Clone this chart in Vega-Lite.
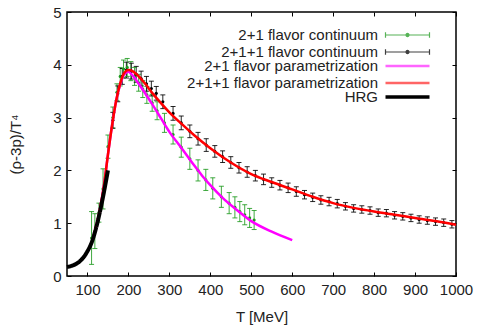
{
  "$schema": "https://vega.github.io/schema/vega-lite/v6.json",
  "width": 389,
  "height": 264,
  "autosize": "none",
  "padding": {"left": 67, "top": 12, "right": 22, "bottom": 49},
  "config": {
    "font": "Liberation Sans",
    "view": {"stroke": "#000000", "strokeWidth": 1.5},
    "axis": {"grid": false, "domain": false, "tickColor": "#000000", "tickSize": -4, "labelFontSize": 15, "labelColor": "#222222", "labelFont": "Liberation Sans", "titleFont": "Liberation Sans", "titleFontWeight": "normal", "titleColor": "#222222", "labelOverlap": false, "labelFlush": false, "format": "d"},
    "legend": {"labelFont": "Liberation Sans", "labelFontSize": 15, "labelColor": "#222222", "labelLimit": 400, "title": null, "orient": "none", "symbolSize": 121, "labelAlign": "right", "labelOffset": -37, "rowPadding": 1, "padding": 0}
  },
  "datasets": {
    "pts": [
      {"series": "2+1 flavor continuum", "T": 110, "v": 0.72, "lo": 0.22, "hi": 1.22},
      {"series": "2+1 flavor continuum", "T": 118, "v": 0.85, "lo": 0.52, "hi": 1.18},
      {"series": "2+1 flavor continuum", "T": 128, "v": 1.2, "lo": 1.02, "hi": 1.38},
      {"series": "2+1 flavor continuum", "T": 138, "v": 1.65, "lo": 1.27, "hi": 2.03},
      {"series": "2+1 flavor continuum", "T": 150, "v": 2.45, "lo": 2.23, "hi": 2.67},
      {"series": "2+1 flavor continuum", "T": 162, "v": 3.0, "lo": 2.8, "hi": 3.2},
      {"series": "2+1 flavor continuum", "T": 172, "v": 3.48, "lo": 3.32, "hi": 3.64},
      {"series": "2+1 flavor continuum", "T": 180, "v": 3.78, "lo": 3.6, "hi": 3.95},
      {"series": "2+1 flavor continuum", "T": 188, "v": 3.92, "lo": 3.75, "hi": 4.09},
      {"series": "2+1 flavor continuum", "T": 197, "v": 3.95, "lo": 3.78, "hi": 4.12},
      {"series": "2+1 flavor continuum", "T": 206, "v": 3.88, "lo": 3.7, "hi": 4.06},
      {"series": "2+1 flavor continuum", "T": 215, "v": 3.78, "lo": 3.61, "hi": 3.95},
      {"series": "2+1 flavor continuum", "T": 225, "v": 3.66, "lo": 3.5, "hi": 3.82},
      {"series": "2+1 flavor continuum", "T": 235, "v": 3.54, "lo": 3.38, "hi": 3.7},
      {"series": "2+1 flavor continuum", "T": 245, "v": 3.43, "lo": 3.27, "hi": 3.59},
      {"series": "2+1 flavor continuum", "T": 258, "v": 3.28, "lo": 3.12, "hi": 3.44},
      {"series": "2+1 flavor continuum", "T": 270, "v": 3.13, "lo": 2.96, "hi": 3.3},
      {"series": "2+1 flavor continuum", "T": 288, "v": 2.9, "lo": 2.72, "hi": 3.08},
      {"series": "2+1 flavor continuum", "T": 309, "v": 2.68, "lo": 2.5, "hi": 2.86},
      {"series": "2+1 flavor continuum", "T": 329, "v": 2.44, "lo": 2.25, "hi": 2.63},
      {"series": "2+1 flavor continuum", "T": 350, "v": 2.22, "lo": 2.02, "hi": 2.42},
      {"series": "2+1 flavor continuum", "T": 370, "v": 2.0, "lo": 1.8, "hi": 2.2},
      {"series": "2+1 flavor continuum", "T": 389, "v": 1.82, "lo": 1.62, "hi": 2.02},
      {"series": "2+1 flavor continuum", "T": 406, "v": 1.66, "lo": 1.46, "hi": 1.86},
      {"series": "2+1 flavor continuum", "T": 427, "v": 1.5, "lo": 1.3, "hi": 1.7},
      {"series": "2+1 flavor continuum", "T": 446, "v": 1.38, "lo": 1.18, "hi": 1.58},
      {"series": "2+1 flavor continuum", "T": 460, "v": 1.3, "lo": 1.1, "hi": 1.5},
      {"series": "2+1 flavor continuum", "T": 472, "v": 1.22, "lo": 1.03, "hi": 1.41},
      {"series": "2+1 flavor continuum", "T": 484, "v": 1.16, "lo": 0.97, "hi": 1.35},
      {"series": "2+1 flavor continuum", "T": 496, "v": 1.1, "lo": 0.92, "hi": 1.28},
      {"series": "2+1 flavor continuum", "T": 507, "v": 1.06, "lo": 0.88, "hi": 1.24},
      {"series": "2+1+1 flavor continuum", "T": 162, "v": 2.95, "lo": 2.8, "hi": 3.1},
      {"series": "2+1+1 flavor continuum", "T": 174, "v": 3.45, "lo": 3.3, "hi": 3.6},
      {"series": "2+1+1 flavor continuum", "T": 185, "v": 3.78, "lo": 3.63, "hi": 3.93},
      {"series": "2+1+1 flavor continuum", "T": 195, "v": 3.9, "lo": 3.75, "hi": 4.05},
      {"series": "2+1+1 flavor continuum", "T": 207, "v": 3.88, "lo": 3.73, "hi": 4.03},
      {"series": "2+1+1 flavor continuum", "T": 219, "v": 3.82, "lo": 3.67, "hi": 3.97},
      {"series": "2+1+1 flavor continuum", "T": 231, "v": 3.74, "lo": 3.6, "hi": 3.88},
      {"series": "2+1+1 flavor continuum", "T": 244, "v": 3.64, "lo": 3.5, "hi": 3.78},
      {"series": "2+1+1 flavor continuum", "T": 256, "v": 3.55, "lo": 3.41, "hi": 3.69},
      {"series": "2+1+1 flavor continuum", "T": 268, "v": 3.46, "lo": 3.33, "hi": 3.59},
      {"series": "2+1+1 flavor continuum", "T": 284, "v": 3.3, "lo": 3.17, "hi": 3.43},
      {"series": "2+1+1 flavor continuum", "T": 309, "v": 3.08, "lo": 2.95, "hi": 3.21},
      {"series": "2+1+1 flavor continuum", "T": 329, "v": 2.9, "lo": 2.77, "hi": 3.03},
      {"series": "2+1+1 flavor continuum", "T": 350, "v": 2.74, "lo": 2.62, "hi": 2.86},
      {"series": "2+1+1 flavor continuum", "T": 370, "v": 2.6, "lo": 2.48, "hi": 2.72},
      {"series": "2+1+1 flavor continuum", "T": 390, "v": 2.48, "lo": 2.36, "hi": 2.6},
      {"series": "2+1+1 flavor continuum", "T": 411, "v": 2.36, "lo": 2.25, "hi": 2.47},
      {"series": "2+1+1 flavor continuum", "T": 430, "v": 2.26, "lo": 2.15, "hi": 2.37},
      {"series": "2+1+1 flavor continuum", "T": 450, "v": 2.15, "lo": 2.04, "hi": 2.26},
      {"series": "2+1+1 flavor continuum", "T": 470, "v": 2.05, "lo": 1.95, "hi": 2.15},
      {"series": "2+1+1 flavor continuum", "T": 490, "v": 1.97, "lo": 1.87, "hi": 2.07},
      {"series": "2+1+1 flavor continuum", "T": 510, "v": 1.9, "lo": 1.8, "hi": 2.0},
      {"series": "2+1+1 flavor continuum", "T": 530, "v": 1.83, "lo": 1.73, "hi": 1.93},
      {"series": "2+1+1 flavor continuum", "T": 550, "v": 1.77, "lo": 1.68, "hi": 1.86},
      {"series": "2+1+1 flavor continuum", "T": 570, "v": 1.72, "lo": 1.63, "hi": 1.81},
      {"series": "2+1+1 flavor continuum", "T": 590, "v": 1.67, "lo": 1.58, "hi": 1.76},
      {"series": "2+1+1 flavor continuum", "T": 610, "v": 1.6, "lo": 1.51, "hi": 1.69},
      {"series": "2+1+1 flavor continuum", "T": 630, "v": 1.54, "lo": 1.46, "hi": 1.62},
      {"series": "2+1+1 flavor continuum", "T": 650, "v": 1.49, "lo": 1.41, "hi": 1.57},
      {"series": "2+1+1 flavor continuum", "T": 670, "v": 1.44, "lo": 1.36, "hi": 1.52},
      {"series": "2+1+1 flavor continuum", "T": 690, "v": 1.41, "lo": 1.33, "hi": 1.49},
      {"series": "2+1+1 flavor continuum", "T": 710, "v": 1.37, "lo": 1.29, "hi": 1.45},
      {"series": "2+1+1 flavor continuum", "T": 730, "v": 1.32, "lo": 1.25, "hi": 1.39},
      {"series": "2+1+1 flavor continuum", "T": 750, "v": 1.28, "lo": 1.21, "hi": 1.35},
      {"series": "2+1+1 flavor continuum", "T": 770, "v": 1.26, "lo": 1.19, "hi": 1.33},
      {"series": "2+1+1 flavor continuum", "T": 790, "v": 1.24, "lo": 1.17, "hi": 1.31},
      {"series": "2+1+1 flavor continuum", "T": 810, "v": 1.2, "lo": 1.13, "hi": 1.27},
      {"series": "2+1+1 flavor continuum", "T": 830, "v": 1.19, "lo": 1.12, "hi": 1.26},
      {"series": "2+1+1 flavor continuum", "T": 850, "v": 1.15, "lo": 1.08, "hi": 1.22},
      {"series": "2+1+1 flavor continuum", "T": 870, "v": 1.13, "lo": 1.06, "hi": 1.2},
      {"series": "2+1+1 flavor continuum", "T": 890, "v": 1.1, "lo": 1.03, "hi": 1.17},
      {"series": "2+1+1 flavor continuum", "T": 910, "v": 1.07, "lo": 1.0, "hi": 1.14},
      {"series": "2+1+1 flavor continuum", "T": 930, "v": 1.05, "lo": 0.98, "hi": 1.12},
      {"series": "2+1+1 flavor continuum", "T": 950, "v": 1.03, "lo": 0.96, "hi": 1.1},
      {"series": "2+1+1 flavor continuum", "T": 970, "v": 1.01, "lo": 0.94, "hi": 1.08},
      {"series": "2+1+1 flavor continuum", "T": 990, "v": 0.98, "lo": 0.91, "hi": 1.05}
    ],
    "curves": [
      {"series": "2+1 flavor parametrization", "T": 110, "v": 0.62},
      {"series": "2+1 flavor parametrization", "T": 120, "v": 0.9},
      {"series": "2+1 flavor parametrization", "T": 130, "v": 1.25},
      {"series": "2+1 flavor parametrization", "T": 140, "v": 1.7},
      {"series": "2+1 flavor parametrization", "T": 150, "v": 2.3},
      {"series": "2+1 flavor parametrization", "T": 160, "v": 2.85},
      {"series": "2+1 flavor parametrization", "T": 170, "v": 3.32},
      {"series": "2+1 flavor parametrization", "T": 180, "v": 3.63},
      {"series": "2+1 flavor parametrization", "T": 190, "v": 3.82},
      {"series": "2+1 flavor parametrization", "T": 200, "v": 3.87},
      {"series": "2+1 flavor parametrization", "T": 210, "v": 3.8},
      {"series": "2+1 flavor parametrization", "T": 220, "v": 3.7},
      {"series": "2+1 flavor parametrization", "T": 240, "v": 3.47},
      {"series": "2+1 flavor parametrization", "T": 260, "v": 3.23},
      {"series": "2+1 flavor parametrization", "T": 280, "v": 2.98},
      {"series": "2+1 flavor parametrization", "T": 300, "v": 2.73},
      {"series": "2+1 flavor parametrization", "T": 330, "v": 2.42},
      {"series": "2+1 flavor parametrization", "T": 360, "v": 2.1},
      {"series": "2+1 flavor parametrization", "T": 380, "v": 1.9},
      {"series": "2+1 flavor parametrization", "T": 400, "v": 1.72},
      {"series": "2+1 flavor parametrization", "T": 430, "v": 1.48},
      {"series": "2+1 flavor parametrization", "T": 460, "v": 1.28},
      {"series": "2+1 flavor parametrization", "T": 500, "v": 1.04},
      {"series": "2+1 flavor parametrization", "T": 550, "v": 0.84},
      {"series": "2+1 flavor parametrization", "T": 600, "v": 0.68},
      {"series": "2+1+1 flavor parametrization", "T": 110, "v": 0.62},
      {"series": "2+1+1 flavor parametrization", "T": 120, "v": 0.9},
      {"series": "2+1+1 flavor parametrization", "T": 130, "v": 1.25},
      {"series": "2+1+1 flavor parametrization", "T": 140, "v": 1.7},
      {"series": "2+1+1 flavor parametrization", "T": 150, "v": 2.3},
      {"series": "2+1+1 flavor parametrization", "T": 160, "v": 2.85},
      {"series": "2+1+1 flavor parametrization", "T": 170, "v": 3.32},
      {"series": "2+1+1 flavor parametrization", "T": 180, "v": 3.65},
      {"series": "2+1+1 flavor parametrization", "T": 190, "v": 3.85},
      {"series": "2+1+1 flavor parametrization", "T": 200, "v": 3.9},
      {"series": "2+1+1 flavor parametrization", "T": 210, "v": 3.88},
      {"series": "2+1+1 flavor parametrization", "T": 220, "v": 3.82},
      {"series": "2+1+1 flavor parametrization", "T": 240, "v": 3.65},
      {"series": "2+1+1 flavor parametrization", "T": 260, "v": 3.45},
      {"series": "2+1+1 flavor parametrization", "T": 280, "v": 3.27},
      {"series": "2+1+1 flavor parametrization", "T": 300, "v": 3.1},
      {"series": "2+1+1 flavor parametrization", "T": 330, "v": 2.88},
      {"series": "2+1+1 flavor parametrization", "T": 360, "v": 2.67},
      {"series": "2+1+1 flavor parametrization", "T": 400, "v": 2.42},
      {"series": "2+1+1 flavor parametrization", "T": 450, "v": 2.15},
      {"series": "2+1+1 flavor parametrization", "T": 500, "v": 1.93},
      {"series": "2+1+1 flavor parametrization", "T": 550, "v": 1.78},
      {"series": "2+1+1 flavor parametrization", "T": 600, "v": 1.64},
      {"series": "2+1+1 flavor parametrization", "T": 650, "v": 1.5},
      {"series": "2+1+1 flavor parametrization", "T": 700, "v": 1.38},
      {"series": "2+1+1 flavor parametrization", "T": 750, "v": 1.29},
      {"series": "2+1+1 flavor parametrization", "T": 800, "v": 1.22},
      {"series": "2+1+1 flavor parametrization", "T": 850, "v": 1.16},
      {"series": "2+1+1 flavor parametrization", "T": 900, "v": 1.1},
      {"series": "2+1+1 flavor parametrization", "T": 950, "v": 1.04},
      {"series": "2+1+1 flavor parametrization", "T": 1000, "v": 0.97},
      {"series": "HRG", "T": 50, "v": 0.17},
      {"series": "HRG", "T": 60, "v": 0.19},
      {"series": "HRG", "T": 70, "v": 0.22},
      {"series": "HRG", "T": 80, "v": 0.27},
      {"series": "HRG", "T": 90, "v": 0.35},
      {"series": "HRG", "T": 100, "v": 0.47},
      {"series": "HRG", "T": 110, "v": 0.63},
      {"series": "HRG", "T": 120, "v": 0.88},
      {"series": "HRG", "T": 130, "v": 1.2},
      {"series": "HRG", "T": 140, "v": 1.58},
      {"series": "HRG", "T": 150, "v": 2.0}
    ]
  },
  "layer": [
    {
      "data": {"name": "pts"},
      "mark": {"type": "rule", "strokeWidth": 1, "opacity": 0.85},
      "encoding": {
        "x": {"field": "T", "type": "quantitative", "scale": {"domain": [50, 1000], "nice": false}, "axis": {"orient": "bottom", "title": "T [MeV]", "values": [100, 200, 300, 400, 500, 600, 700, 800, 900, 1000], "labelPadding": 10, "titleFontSize": 15, "titlePadding": 12}},
        "y": {"field": "lo", "type": "quantitative", "scale": {"domain": [0, 5], "nice": false}, "axis": {"orient": "left", "title": "(ρ-3p)/T⁴", "values": [0, 1, 2, 3, 4, 5], "labelPadding": 10, "titleFontSize": 15, "titlePadding": 29}},
        "y2": {"field": "hi"},
        "stroke": {
          "field": "series", "type": "nominal",
          "scale": {"domain": ["2+1 flavor continuum", "2+1+1 flavor continuum"], "range": ["#1f9a1f", "#000000"]},
          "legend": {
            "legendX": 333, "legendY": 15.5,
            "symbolType": "M-4,0H4M-4,-0.5V0.5M4,-0.5V0.5M0.28,0A0.28,0.28,0,1,1,-0.28,0A0.28,0.28,0,1,1,0.28,0Z",
            "symbolStrokeWidth": 1.2,
            "symbolOpacity": 0.75
          }
        }
      }
    },
    {
      "data": {"name": "pts"},
      "mark": {"type": "tick", "orient": "horizontal", "size": 5, "thickness": 1, "opacity": 0.85},
      "encoding": {
        "x": {"field": "T", "type": "quantitative", "axis": null},
        "y": {"field": "lo", "type": "quantitative", "axis": null},
        "fill": {"field": "series", "type": "nominal", "scale": {"domain": ["2+1 flavor continuum", "2+1+1 flavor continuum"], "range": ["#1f9a1f", "#000000"]}, "legend": null}
      }
    },
    {
      "data": {"name": "pts"},
      "mark": {"type": "tick", "orient": "horizontal", "size": 5, "thickness": 1, "opacity": 0.85},
      "encoding": {
        "x": {"field": "T", "type": "quantitative", "axis": null},
        "y": {"field": "hi", "type": "quantitative", "axis": null},
        "fill": {"field": "series", "type": "nominal", "legend": null}
      }
    },
    {
      "data": {"name": "pts"},
      "mark": {"type": "circle", "size": 10, "opacity": 1},
      "encoding": {
        "x": {"field": "T", "type": "quantitative", "axis": null},
        "y": {"field": "v", "type": "quantitative", "axis": null},
        "fill": {"field": "series", "type": "nominal", "legend": null}
      }
    },
    {
      "data": {"name": "curves"},
      "transform": [{"filter": "datum.series !== 'HRG'"}],
      "mark": {"type": "line", "interpolate": "monotone", "strokeWidth": 2.5},
      "encoding": {
        "x": {"field": "T", "type": "quantitative", "axis": {"orient": "top", "title": null, "labels": false, "values": [100, 200, 300, 400, 500, 600, 700, 800, 900, 1000]}},
        "y": {"field": "v", "type": "quantitative", "axis": {"orient": "right", "title": null, "labels": false, "values": [0, 1, 2, 3, 4, 5]}},
        "color": {
          "field": "series", "type": "nominal",
          "scale": {"domain": ["2+1 flavor parametrization", "2+1+1 flavor parametrization"], "range": ["#ff00ff", "#ff0000"]},
          "legend": {
            "legendX": 333, "legendY": 46.5,
            "symbolType": "M-4,0H4",
            "symbolStrokeWidth": 2.5,
            "symbolOpacity": 0.6
          }
        }
      }
    },
    {
      "data": {"name": "curves"},
      "transform": [{"filter": "datum.series === 'HRG'"}],
      "mark": {"type": "line", "interpolate": "monotone", "strokeWidth": 4, "color": "#000000"},
      "encoding": {
        "x": {"field": "T", "type": "quantitative", "axis": null},
        "y": {"field": "v", "type": "quantitative", "axis": null},
        "strokeDash": {
          "field": "series", "type": "nominal",
          "scale": {"domain": ["HRG"], "range": [[1, 0]]},
          "legend": {
            "legendX": 333, "legendY": 77.5,
            "symbolType": "M-4,0H4",
            "symbolStrokeWidth": 3.5,
            "symbolStrokeColor": "#000000"
          }
        }
      }
    }
  ]
}
